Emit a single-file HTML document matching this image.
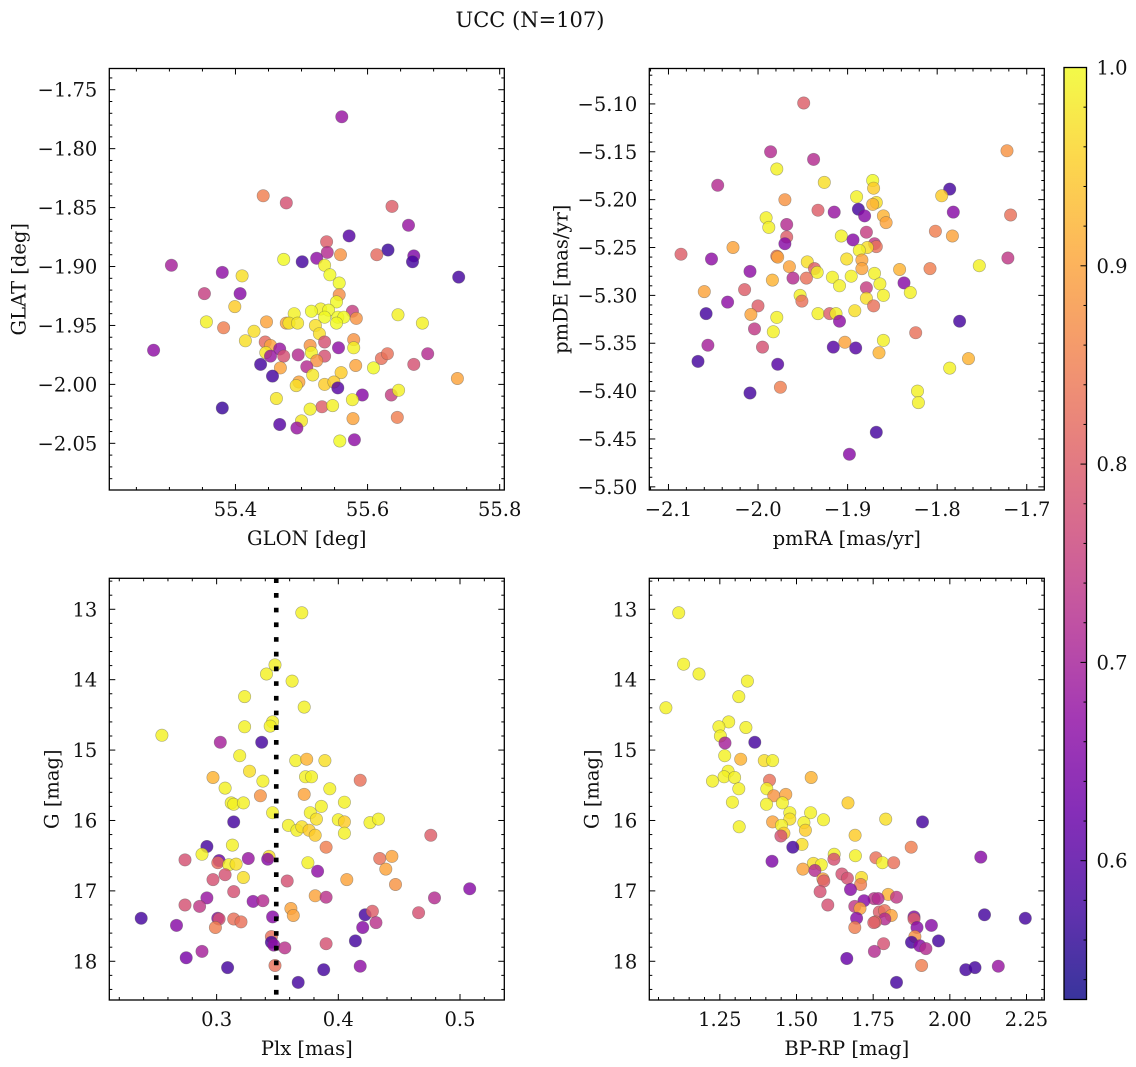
<!DOCTYPE html>
<html><head><meta charset="utf-8"><title>UCC (N=107)</title>
<style>
html,body{margin:0;padding:0;background:#fff;}
svg{display:block;font-family:"DejaVu Serif","Liberation Serif",serif;}
</style></head>
<body>
<svg id="fig" width="1136" height="1067" viewBox="0 0 1136 1067" xmlns="http://www.w3.org/2000/svg">
<text x="530" y="27" font-size="21" text-anchor="middle" fill="#111">UCC (N=107)</text>
</svg>
<script>
// ---- Panel 1: GLON / GLAT ----
const glon = [55.561,55.442,55.477,55.637,55.662,55.572,55.538,55.631,55.614,55.559,55.539,55.670,55.668,55.473,55.501,55.523,55.535,55.303,55.380,55.410,55.738,55.543,55.557,55.353,55.407,55.557,55.553,55.399,55.529,55.515,55.541,55.577,55.489,55.535,55.555,55.564,55.583,55.356,55.382,55.447,55.477,55.481,55.494,55.553,55.683,55.646,55.521,55.428,55.527,55.415,55.445,55.535,55.579,55.453,55.467,55.513,55.556,55.579,55.276,55.446,55.453,55.473,55.495,55.515,55.535,55.523,55.621,55.630,55.691,55.438,55.508,55.582,55.609,55.670,55.468,55.456,55.517,55.560,55.736,55.496,55.492,55.535,55.549,55.555,55.592,55.636,55.647,55.462,55.577,55.531,55.547,55.513,55.380,55.467,55.500,55.493,55.578,55.645,55.558,55.580];
const glat = [-1.773,-1.840,-1.846,-1.849,-1.865,-1.874,-1.879,-1.886,-1.890,-1.890,-1.888,-1.891,-1.896,-1.894,-1.896,-1.893,-1.899,-1.899,-1.905,-1.908,-1.909,-1.907,-1.914,-1.923,-1.923,-1.924,-1.930,-1.934,-1.936,-1.938,-1.937,-1.938,-1.940,-1.943,-1.943,-1.943,-1.944,-1.947,-1.952,-1.947,-1.948,-1.948,-1.948,-1.948,-1.948,-1.941,-1.950,-1.955,-1.957,-1.963,-1.964,-1.964,-1.962,-1.967,-1.970,-1.967,-1.969,-1.969,-1.971,-1.973,-1.976,-1.976,-1.975,-1.973,-1.976,-1.980,-1.978,-1.974,-1.974,-1.983,-1.985,-1.984,-1.986,-1.983,-1.986,-1.993,-1.992,-1.990,-1.995,-1.998,-2.001,-2.000,-1.998,-2.003,-2.009,-2.009,-2.005,-2.012,-2.013,-2.019,-2.018,-2.021,-2.020,-2.034,-2.031,-2.037,-2.029,-2.028,-2.048,-2.047];
const prob1 = [0.68,0.85,0.78,0.80,0.68,0.60,0.80,0.57,0.82,0.88,0.72,0.65,0.58,1.0,0.58,0.67,0.99,0.70,0.67,0.97,0.58,1.0,1.0,0.75,0.66,0.87,1.0,0.95,0.99,1.0,1.0,0.75,0.99,1.0,1.0,1.0,0.88,0.99,0.85,0.90,0.90,0.98,0.98,1.0,0.99,0.99,0.97,0.97,0.97,0.97,0.82,0.78,0.88,0.90,0.68,0.88,0.67,0.99,0.67,0.98,0.68,0.78,0.72,0.99,0.78,0.88,0.83,0.83,0.72,0.58,0.72,0.90,1.0,0.78,0.90,0.58,0.98,0.95,0.90,0.90,0.97,0.95,0.95,0.60,0.66,0.75,0.99,0.98,0.99,0.80,0.99,0.99,0.57,0.60,0.98,0.68,0.90,0.85,1.0,0.67];
const ticks1x = [55.4,55.6,55.8];
const ticks1y = [-1.75,-1.80,-1.85,-1.90,-1.95,-2.00,-2.05];

// ---- Panel 2: pmRA / pmDE ----
const pmra = [-1.949,-1.986,-1.938,-1.722,-1.979,-1.926,-2.045,-1.872,-1.871,-1.786,-1.795,-1.890,-1.970,-1.868,-1.872,-1.888,-1.933,-1.915,-1.881,-1.782,-1.718,-1.860,-1.857,-1.991,-1.988,-1.968,-1.802,-1.783,-1.879,-1.907,-1.968,-1.894,-1.970,-1.870,-1.868,-1.878,-2.028,-2.086,-1.887,-2.052,-1.979,-1.978,-1.721,-1.901,-1.884,-1.753,-1.965,-1.945,-1.937,-1.884,-2.009,-1.934,-1.842,-1.808,-1.870,-1.961,-1.946,-1.984,-1.917,-1.896,-1.909,-1.864,-1.837,-1.879,-2.060,-2.015,-1.860,-1.830,-1.953,-1.951,-1.879,-2.034,-1.871,-2.000,-2.058,-2.008,-1.933,-1.920,-1.913,-1.892,-1.979,-1.909,-1.775,-2.004,-1.983,-1.824,-1.860,-2.056,-1.995,-1.916,-1.903,-1.891,-1.865,-2.067,-1.765,-1.978,-1.786,-1.975,-2.009,-1.822,-1.821,-1.868,-1.898];
const pmde = [-5.099,-5.150,-5.158,-5.149,-5.168,-5.182,-5.185,-5.180,-5.188,-5.189,-5.196,-5.197,-5.200,-5.203,-5.205,-5.210,-5.211,-5.213,-5.217,-5.213,-5.216,-5.217,-5.224,-5.219,-5.229,-5.226,-5.233,-5.238,-5.234,-5.238,-5.239,-5.242,-5.246,-5.246,-5.249,-5.250,-5.250,-5.257,-5.253,-5.262,-5.259,-5.260,-5.261,-5.262,-5.263,-5.269,-5.270,-5.265,-5.272,-5.272,-5.275,-5.276,-5.273,-5.272,-5.277,-5.282,-5.282,-5.284,-5.281,-5.280,-5.290,-5.288,-5.287,-5.292,-5.296,-5.294,-5.300,-5.297,-5.300,-5.306,-5.303,-5.307,-5.311,-5.311,-5.319,-5.320,-5.319,-5.319,-5.319,-5.316,-5.323,-5.327,-5.327,-5.335,-5.338,-5.339,-5.347,-5.352,-5.354,-5.354,-5.349,-5.355,-5.360,-5.369,-5.366,-5.372,-5.376,-5.396,-5.402,-5.400,-5.412,-5.443,-5.466];
const prob2 = [0.80,0.72,0.72,0.88,0.99,0.97,0.72,1.0,0.95,0.58,0.95,0.99,0.88,0.97,0.92,0.58,0.80,0.68,0.66,0.66,0.83,0.92,0.90,0.99,0.99,0.72,0.85,0.90,0.75,0.99,0.80,0.66,0.66,0.74,0.83,0.97,0.90,0.80,0.99,0.67,0.83,0.90,0.74,0.97,0.90,0.99,0.90,0.97,0.80,0.90,0.67,0.99,0.92,0.85,0.99,0.72,0.83,0.92,0.99,0.99,0.99,0.99,0.66,0.75,0.90,0.80,0.99,0.99,0.99,0.83,0.97,0.67,0.83,0.80,0.58,0.90,0.99,0.80,0.99,0.97,0.99,0.67,0.58,0.74,0.99,0.83,0.99,0.70,0.78,0.60,0.90,0.60,0.92,0.58,0.92,0.60,0.99,0.85,0.58,0.99,0.99,0.58,0.66];
const ticks2x = [-2.1,-2.0,-1.9,-1.8,-1.7];
const ticks2y = [-5.10,-5.15,-5.20,-5.25,-5.30,-5.35,-5.40,-5.45,-5.50];

// ---- Panel 3: Plx / G ----
const plx = [0.370,0.348,0.341,0.362,0.323,0.372,0.346,0.344,0.323,0.255,0.303,0.337,0.319,0.365,0.374,0.389,0.327,0.297,0.338,0.373,0.378,0.418,0.307,0.393,0.336,0.372,0.312,0.314,0.322,0.405,0.386,0.346,0.377,0.382,0.314,0.400,0.405,0.426,0.433,0.359,0.366,0.370,0.376,0.381,0.405,0.476,0.292,0.313,0.390,0.288,0.274,0.302,0.301,0.326,0.343,0.342,0.310,0.316,0.375,0.434,0.444,0.439,0.307,0.322,0.383,0.297,0.358,0.407,0.447,0.314,0.508,0.292,0.330,0.338,0.381,0.390,0.479,0.274,0.286,0.361,0.363,0.238,0.267,0.301,0.302,0.299,0.314,0.320,0.346,0.422,0.428,0.431,0.466,0.420,0.345,0.345,0.347,0.356,0.390,0.414,0.288,0.275,0.309,0.348,0.388,0.418,0.367];
const gmag3 = [13.05,13.79,13.92,14.02,14.24,14.39,14.60,14.66,14.67,14.79,14.89,14.89,15.08,15.15,15.13,15.15,15.30,15.39,15.44,15.38,15.38,15.43,15.54,15.55,15.65,15.63,15.75,15.77,15.75,15.74,15.80,15.89,15.89,15.98,16.02,15.99,16.02,16.03,15.98,16.07,16.14,16.09,16.14,16.21,16.18,16.21,16.37,16.35,16.38,16.48,16.56,16.57,16.60,16.54,16.51,16.55,16.63,16.62,16.60,16.54,16.51,16.69,16.77,16.81,16.72,16.84,16.86,16.84,16.91,17.01,16.97,17.10,17.15,17.14,17.07,17.09,17.10,17.20,17.22,17.25,17.35,17.39,17.49,17.39,17.40,17.52,17.40,17.44,17.37,17.34,17.29,17.45,17.31,17.52,17.65,17.73,17.77,17.81,17.75,17.71,17.86,17.95,18.09,18.06,18.12,18.07,18.30];
const prob3 = [0.99,0.99,0.99,0.99,0.99,0.99,0.99,0.99,0.99,0.99,0.70,0.58,0.99,0.99,0.92,0.97,0.97,0.92,0.99,0.99,0.99,0.83,0.99,0.99,0.88,0.90,0.99,0.99,0.99,0.99,0.99,0.99,0.99,0.97,0.58,0.99,0.95,0.99,0.99,0.99,0.99,0.97,0.95,0.95,0.99,0.80,0.58,0.99,0.85,0.99,0.78,0.62,0.82,0.68,0.97,0.66,0.99,0.97,0.99,0.83,0.90,0.90,0.78,0.97,0.67,0.78,0.78,0.90,0.88,0.78,0.66,0.68,0.67,0.72,0.90,0.73,0.72,0.78,0.74,0.90,0.90,0.58,0.66,0.66,0.78,0.85,0.83,0.83,0.66,0.58,0.80,0.73,0.78,0.66,0.83,0.58,0.67,0.73,0.78,0.58,0.70,0.64,0.58,0.83,0.58,0.67,0.58];
const plxRef = [0.349];
const ticks3x = [0.3,0.4,0.5];
const ticksGy = [13,14,15,16,17,18];

// ---- Panel 4: BP-RP / G ----
const bprp = [1.116,1.132,1.182,1.340,1.074,1.312,1.279,1.247,1.252,1.335,1.267,1.364,1.266,1.318,1.395,1.422,1.277,1.226,1.264,1.298,1.548,1.412,1.312,1.403,1.426,1.465,1.291,1.402,1.454,1.668,1.478,1.546,1.478,1.422,1.911,1.791,1.588,1.524,1.313,1.451,1.529,1.459,1.449,1.691,1.874,1.518,1.488,1.623,1.692,1.420,2.101,1.759,1.622,1.780,1.817,1.555,1.581,1.521,1.560,1.648,1.666,1.586,1.589,1.712,1.709,1.676,1.577,1.799,1.753,1.766,1.720,1.826,1.602,1.690,1.707,1.770,1.787,1.809,2.113,2.246,1.883,1.883,1.696,1.788,1.757,1.752,1.940,1.893,1.690,1.886,1.875,1.963,1.784,1.902,1.922,1.754,1.664,1.908,2.052,2.082,2.158,1.826];
const gmag4 = [13.05,13.78,13.92,14.02,14.40,14.24,14.60,14.67,14.80,14.68,14.90,14.89,15.08,15.13,15.15,15.15,15.30,15.44,15.38,15.39,15.39,15.43,15.55,15.55,15.65,15.63,15.74,15.77,15.75,15.75,15.89,15.89,15.98,16.02,16.02,15.98,15.99,16.03,16.09,16.07,16.14,16.18,16.22,16.21,16.38,16.34,16.38,16.48,16.50,16.58,16.52,16.53,16.55,16.60,16.60,16.61,16.63,16.69,16.71,16.76,16.82,16.83,16.86,16.81,16.91,16.98,17.01,17.05,17.11,17.11,17.14,17.09,17.20,17.22,17.25,17.30,17.28,17.35,17.34,17.39,17.37,17.40,17.39,17.40,17.44,17.45,17.49,17.52,17.52,17.65,17.73,17.71,17.75,17.78,17.82,17.86,17.96,18.06,18.12,18.09,18.07,18.30];
const prob4 = [0.99,0.99,0.99,0.99,0.99,0.99,0.99,0.99,0.99,0.99,0.70,0.58,0.99,0.92,0.97,0.99,0.99,0.99,0.99,0.99,0.92,0.83,0.99,0.99,0.88,0.90,0.99,0.99,0.99,0.95,0.99,0.99,0.97,0.90,0.58,0.97,0.99,0.99,0.99,0.99,0.95,0.95,0.78,0.95,0.85,0.97,0.58,0.99,0.99,0.65,0.66,0.83,0.78,0.99,0.83,0.97,0.99,0.90,0.72,0.78,0.78,0.90,0.80,0.97,0.85,0.66,0.78,0.92,0.73,0.72,0.66,0.74,0.78,0.74,0.90,0.80,0.83,0.90,0.58,0.58,0.66,0.80,0.66,0.72,0.83,0.80,0.66,0.66,0.85,0.88,0.58,0.58,0.78,0.66,0.72,0.72,0.62,0.85,0.58,0.58,0.68,0.58];
const ticks4x = [1.25,1.50,1.75,2.00,2.25];

// ---- Colorbar ----
const cbTicks = [0.6,0.7,0.8,0.9,1.0];
const cbRange = [0.530,1.0];

const NS = 'http://www.w3.org/2000/svg';
const svg = document.getElementById('fig');
const FS = 19.5;
function mk(tag, attrs, parent){ const e=document.createElementNS(NS,tag); for(const k in attrs) e.setAttribute(k,attrs[k]); (parent||svg).appendChild(e); return e; }
const plasma = [[13,8,135],[65,4,157],[106,0,168],[143,13,164],[177,42,144],[204,71,120],[225,100,98],[242,132,75],[252,166,54],[252,206,37],[240,249,33]];
function cmap(v){ let t=(v-cbRange[0])/(cbRange[1]-cbRange[0]); t=Math.max(0,Math.min(1,t)); const s=t*10, i=Math.min(9,Math.floor(s)), f=s-i; const a=plasma[i], b=plasma[i+1]; return 'rgb('+a.map((c,k)=>Math.round(c+(b[k]-c)*f)).join(',')+')'; }
function fmt(v,d){ return (v<0?'\u2212':'')+Math.abs(v).toFixed(d); }

function panel(cfg){
  const g = mk('g',{});
  
  
  const {L,R,T,B} = cfg;
  const sx = v => L + (v-cfg.xr[0])/(cfg.xr[1]-cfg.xr[0])*(R-L);
  const sy = v => T + (v-cfg.yr[0])/(cfg.yr[1]-cfg.yr[0])*(B-T);
  const pg = mk('g',{}, g);
  
  
  for(let i=0;i<cfg.xs.length;i++){
    const c = mk('circle',{cx:sx(cfg.xs[i]).toFixed(1), cy:sy(cfg.ys[i]).toFixed(1), r:6.2, fill:cmap(cfg.c[i]), 'fill-opacity':0.82, stroke:'#555', 'stroke-opacity':0.5, 'stroke-width':0.6}, pg);
    
    
  }
  if(cfg.vline){
    cfg.vline.forEach(v=>{
      const l = mk('line',{x1:sx(v),x2:sx(v),y1:T,y2:B,stroke:'#000','stroke-width':4.6,'stroke-dasharray':'4.7 10'}, g);
      
      
    });
  }
  const tg = mk('g',{stroke:'#000','stroke-width':1}, g);
  
  
  const lo=Math.min(...cfg.xr), hi=Math.max(...cfg.xr);
  for(let k=Math.ceil(lo/cfg.xmin-1e-6);k*cfg.xmin<=hi+1e-9;k++){
    const v=k*cfg.xmin, x=sx(v); const maj=cfg.xt.some(t=>Math.abs(t-v)<cfg.xmin/10); const len=maj?6:3;
    if(x<L||x>R) continue;
    mk('line',{x1:x,x2:x,y1:B,y2:B-len},tg); mk('line',{x1:x,x2:x,y1:T,y2:T+len},tg);
  }
  const ylo=Math.min(...cfg.yr), yhi=Math.max(...cfg.yr);
  for(let k=Math.ceil(ylo/cfg.ymin-1e-6);k*cfg.ymin<=yhi+1e-9;k++){
    const v=k*cfg.ymin, y=sy(v); const maj=cfg.yt.some(t=>Math.abs(t-v)<cfg.ymin/10); const len=maj?6:3;
    if(y<T||y>B) continue;
    mk('line',{x1:L,x2:L+len,y1:y,y2:y},tg); mk('line',{x1:R,x2:R-len,y1:y,y2:y},tg);
  }
  mk('rect',{x:L,y:T,width:R-L,height:B-T,fill:'none',stroke:'#000','stroke-width':1.3}, g);
  cfg.xt.forEach(v=>{ const t=mk('text',{x:sx(v),y:B+26,'font-size':FS,'text-anchor':'middle',fill:'#111'},g); t.textContent=fmt(v,cfg.xd);
      });
  cfg.yt.forEach(v=>{ const t=mk('text',{x:L-12,y:sy(v)+7,'font-size':FS,'text-anchor':'end',fill:'#111'},g); t.textContent=fmt(v,cfg.yd);
      });
  const xt=mk('text',{x:(L+R)/2,y:B+55,'font-size':FS,'text-anchor':'middle',fill:'#111'},g); xt.textContent=cfg.xlabel;
   
  const yx=L-cfg.yoff, yy=(T+B)/2;
  const yt=mk('text',{x:yx,y:yy,'font-size':FS,'text-anchor':'middle',fill:'#111',transform:'rotate(-90 '+yx+' '+yy+')'},g); yt.textContent=cfg.ylabel;
   
}

panel({name:'glon-glat-panel',L:109.3,R:504.3,T:68.5,B:490,xr:[55.209,55.807],yr:[-1.732,-2.0896],xs:glon,ys:glat,c:prob1,xt:ticks1x,yt:ticks1y,xmin:0.05,ymin:0.01,xd:1,yd:2,xlabel:'GLON [deg]',ylabel:'GLAT [deg]',yoff:84});
panel({name:'pm-panel',L:649.3,R:1044.3,T:68.5,B:490,xr:[-2.1214,-1.6804],yr:[-5.063,-5.5033],xs:pmra,ys:pmde,c:prob2,xt:ticks2x,yt:ticks2y,xmin:0.02,ymin:0.01,xd:1,yd:2,xlabel:'pmRA [mas/yr]',ylabel:'pmDE [mas/yr]',yoff:82});
panel({name:'plx-g-panel',L:109.3,R:504.3,T:578.3,B:1000,xr:[0.2118,0.5364],yr:[12.56,18.55],xs:plx,ys:gmag3,c:prob3,xt:ticks3x,yt:ticksGy,xmin:0.02,ymin:0.2,xd:1,yd:0,xlabel:'Plx [mas]',ylabel:'G [mag]',yoff:51,vline:plxRef});
panel({name:'cmd-panel',L:649.3,R:1044.3,T:578.3,B:1000,xr:[1.020,2.308],yr:[12.56,18.55],xs:bprp,ys:gmag4,c:prob4,xt:ticks4x,yt:ticksGy,xmin:0.05,ymin:0.2,xd:2,yd:0,xlabel:'BP-RP [mag]',ylabel:'G [mag]',yoff:51});

(function(){
  const L=1064,R=1086.5,T=67.5,B=999.5;
  const g=mk('g',{});
  
  
  const defs=mk('defs',{},g);
  const lg=mk('linearGradient',{id:'cbg',x1:0,y1:1,x2:0,y2:0},defs);
  for(let i=0;i<=20;i++){ const v=cbRange[0]+(cbRange[1]-cbRange[0])*i/20; mk('stop',{offset:i/20,'stop-color':cmap(v)},lg); }
  mk('rect',{x:L,y:T,width:R-L,height:B-T,fill:'url(#cbg)','fill-opacity':0.82},g);
  const sy=v=>B-(v-cbRange[0])/(cbRange[1]-cbRange[0])*(B-T);
  for(let k=27;k<=50;k++){ const v=k*0.02; const y=sy(v); if(y<T||y>B) continue; const maj=(k%5===0); mk('line',{x1:R,x2:R-(maj?6:3),y1:y,y2:y,stroke:'#000','stroke-width':1},g); }
  mk('rect',{x:L,y:T,width:R-L,height:B-T,fill:'none',stroke:'#000','stroke-width':1.3},g);
  cbTicks.forEach(v=>{ const t=mk('text',{x:R+10,y:sy(v)+7,'font-size':FS,fill:'#111'},g); t.textContent=v.toFixed(1);
      });
})();
</script>
</body></html>
